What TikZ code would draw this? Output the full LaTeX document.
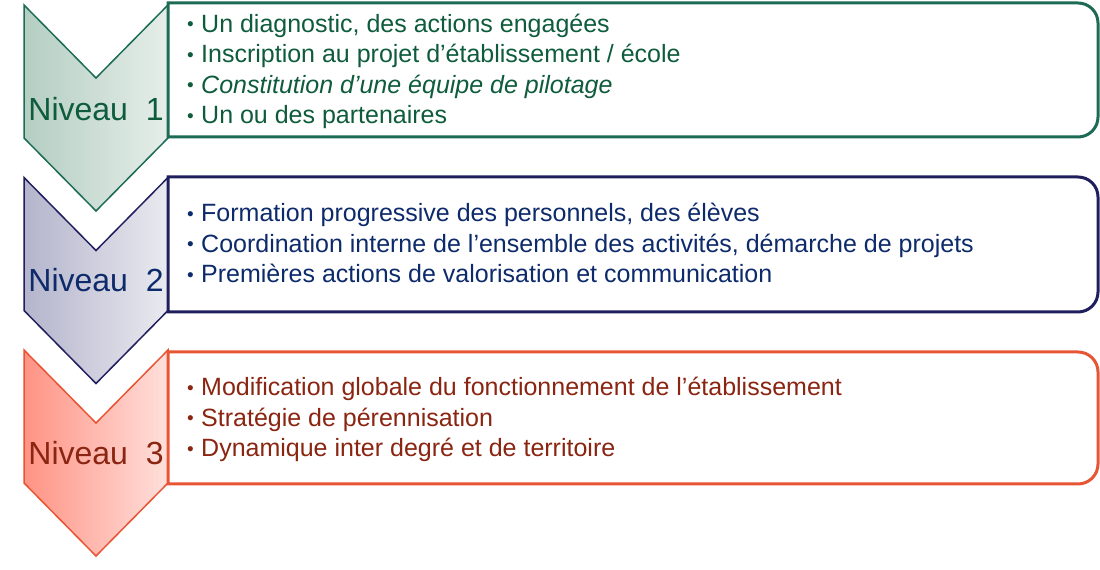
\documentclass[tikz,border=0pt]{standalone}
\usepackage{fontspec}
\setmainfont{Liberation Sans}
\definecolor{vertTrait}{HTML}{1D6B55}
\definecolor{vertTexte}{HTML}{0E5C3C}
\definecolor{vertG}{HTML}{B4CEC2}
\definecolor{vertD}{HTML}{E6EEEA}
\definecolor{bleuTrait}{HTML}{1F1F5E}
\definecolor{bleuTexte}{HTML}{0D2A6A}
\definecolor{bleuG}{HTML}{B4B4CC}
\definecolor{bleuD}{HTML}{EAEAF0}
\definecolor{rougeTrait}{HTML}{E85535}
\definecolor{rougeTexte}{HTML}{8A2511}
\definecolor{rougeG}{HTML}{FF9384}
\definecolor{rougeD}{HTML}{FFE0DC}
\newcommand{\puce}{\makebox[15pt][l]{\hspace{1pt}\raisebox{1.5pt}{\fontsize{19}{19}\selectfont\textbullet}}}
\begin{document}
\begin{tikzpicture}
		[x=1pt,y=1pt,
		niveau/.style={inner sep=0pt,font=\fontsize{32}{34}\selectfont},
		liste/.style={anchor=west,inner sep=0pt,align=left,font=\fontsize{25}{30.5}\selectfont},
		chevron/.style={line width=1.5pt},
		cadre/.style={line width=3pt,fill=white}]
		\useasboundingbox (0,0) rectangle (1100,570);
		% chevrons
		\shadedraw[chevron,draw=vertTrait,left color=vertG,right color=vertD] (24,565) -- (96,492) -- (168,565) -- (168,432) -- (96,359) -- (24,432) -- cycle;
		\shadedraw[chevron,draw=bleuTrait,left color=bleuG,right color=bleuD] (24,392.5) -- (96,319.5) -- (168,392.5) -- (168,259.5) -- (96,186.5) -- (24,259.5) -- cycle;
		\shadedraw[chevron,draw=rougeTrait,left color=rougeG,right color=rougeD] (24,220) -- (96,147) -- (168,220) -- (168,87) -- (96,14) -- (24,87) -- cycle;
		% cadres
		\draw[cadre,draw=vertTrait] (168,433) -- (168,567) -- (1078,567) arc[start angle=90,end angle=0,radius=20pt] -- (1098,453) arc[start angle=0,end angle=-90,radius=20pt] -- cycle;
		\draw[cadre,draw=bleuTrait] (168,258) -- (168,393) -- (1078,393) arc[start angle=90,end angle=0,radius=20pt] -- (1098,278) arc[start angle=0,end angle=-90,radius=20pt] -- cycle;
		\draw[cadre,draw=rougeTrait] (168,86) -- (168,218) -- (1078,218) arc[start angle=90,end angle=0,radius=20pt] -- (1098,106) arc[start angle=0,end angle=-90,radius=20pt] -- cycle;
		% textes
		\node[niveau,name=n1,text=vertTexte] at (96,461) {Niveau\ \ 1};
		\node[niveau,name=n2,text=bleuTexte] at (96,290) {Niveau\ \ 2};
		\node[niveau,name=n3,text=rougeTexte] at (96,117) {Niveau\ \ 3};
		\node[liste,name=l1,text=vertTexte] at (186,498.5) {\puce Un diagnostic, des actions engagées\\
			\puce Inscription au projet d’établissement / école\\
			\puce\textit{Constitution d’une équipe de pilotage}\\
			\puce Un ou des partenaires};
		\node[liste,name=l2,text=bleuTexte] at (186,327) {\puce Formation progressive des personnels, des élèves\\
			\puce Coordination interne de l’ensemble des activités, démarche de projets\\
			\puce Premières actions de valorisation et communication};
		\node[liste,name=l3,text=rougeTexte] at (186,150.5) {\puce Modification globale du fonctionnement de l’établissement\\
			\puce Stratégie de pérennisation\\
			\puce Dynamique inter degré et de territoire};
	\end{tikzpicture}
\end{document}
